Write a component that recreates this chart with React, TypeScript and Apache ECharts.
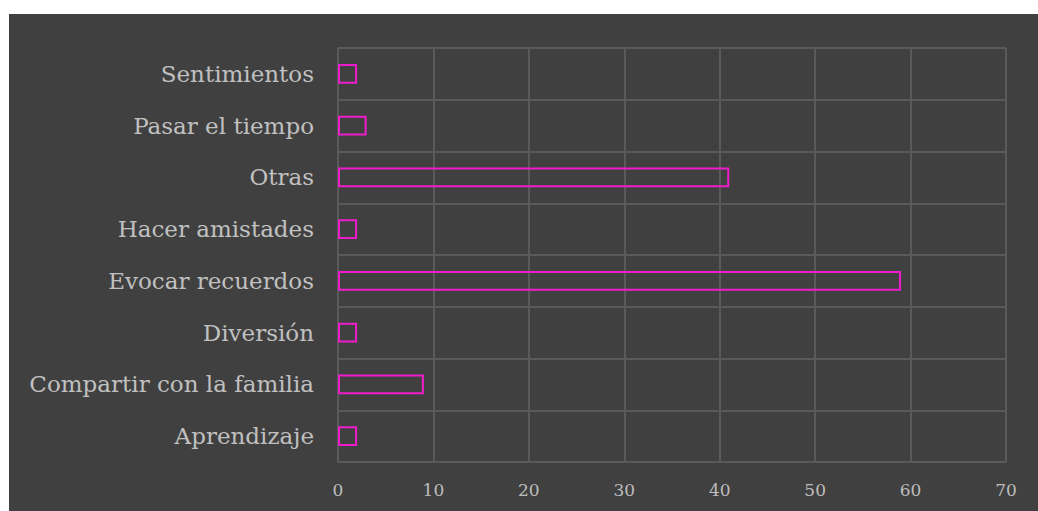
import React, { useEffect, useRef } from "react";
import * as echarts from "echarts";

const categories = [
  "Aprendizaje",
  "Compartir con la familia",
  "Diversión",
  "Evocar recuerdos",
  "Hacer amistades",
  "Otras",
  "Pasar el tiempo",
  "Sentimientos",
];
const values = [2, 9, 2, 59, 2, 41, 3, 2];
const xTicks = { min: 0, max: 70, interval: 10 };

export default function App() {
  const ref = useRef<HTMLDivElement>(null);
  useEffect(() => {
    if (!ref.current) return;
    const chart = echarts.init(ref.current, null, { renderer: "svg" });
    chart.setOption({
      animation: false,
      backgroundColor: "#404040",
      grid: { left: 329, right: 32, top: 34, bottom: 49, containLabel: false },
      xAxis: {
        type: "value",
        min: xTicks.min,
        max: xTicks.max,
        interval: xTicks.interval,
        axisLine: { show: false },
        axisTick: { show: false },
        axisLabel: {
          color: "#bdbdbd",
          fontFamily: "DejaVu Serif",
          fontSize: 17,
          margin: 19,
        },
        splitLine: { show: true, lineStyle: { color: "#5a5a5a", width: 2 } },
      },
      yAxis: {
        type: "category",
        data: categories,
        axisLine: { show: true, lineStyle: { color: "#5a5a5a", width: 2 } },
        axisTick: { show: false },
        axisLabel: {
          color: "#c0c0c0",
          fontFamily: "DejaVu Serif",
          fontSize: 23,
          margin: 24,
          padding: [4, 0, 0, 0],
        },
        splitLine: { show: true, lineStyle: { color: "#5a5a5a", width: 2 } },
      },
      series: [
        {
          type: "bar",
          data: values,
          barWidth: "38%",
          itemStyle: {
            color: "transparent",
            borderColor: "#f01ccc",
            borderWidth: 2,
          },
        },
      ],
    });
    return () => chart.dispose();
  }, []);
  return (
    <div style={{ position: "fixed", left: 0, top: 0, width: 1038, height: 511, background: "#fff" }}>
      <div ref={ref} style={{ position: "absolute", left: 9, top: 14, width: 1029, height: 497 }} />
    </div>
  );
}
